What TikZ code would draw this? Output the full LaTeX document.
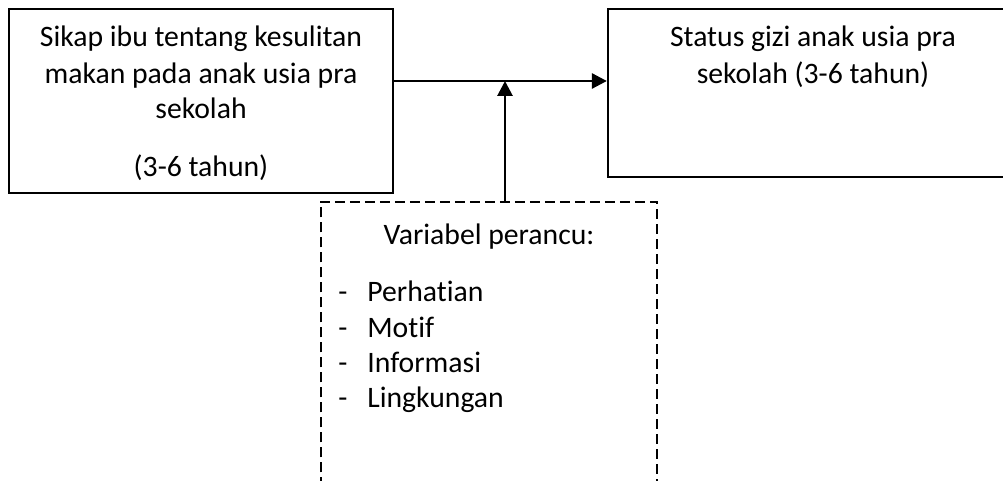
\documentclass[tikz,border=0pt]{standalone}
\usepackage{fontspec}
\setmainfont{Carlito}[Ligatures={NoCommon,NoContextual}]
\usepackage{xcolor}
\usepackage{tikz}
\usetikzlibrary{arrows.meta}
\definecolor{ink}{HTML}{000000}
\tikzset{
  box/.style={draw=ink, line width=1.3pt, minimum width=#1, inner sep=0pt},
  conffrm/.style={draw=ink, line width=1.1pt, dash pattern=on 0.2cm off 0.1cm},
  arr/.style={draw=ink, line width=1.6pt, -{Triangle[length=0.3cm,width=0.3cm]}},
  txt/.style={anchor=base, inner sep=0pt, text=ink},
  itm/.style={anchor=base west, inner sep=0pt, text=ink},
  every node/.style={font=\fontsize{16.9pt}{20pt}\selectfont}
}

\begin{document}
\begin{tikzpicture}
  \useasboundingbox (0,0) rectangle (20.06,-9.62);

  \node[box=7.68cm, minimum height=3.68cm] (lft) at (4.02,-2.02) {};
  \node[box=8.2cm, minimum height=3.36cm] (rgt) at (16.26,-1.86) {};
  \node[minimum width=6.72cm, minimum height=6cm, inner sep=0pt] (conf) at (9.78,-7.04) {};

  % teks kotak kiri
  \node[txt] (l1) at (4.02,-0.94) {Sikap ibu tentang kesulitan};
  \node[txt] (l2) at (4.02,-1.67) {makan pada anak usia pra};
  \node[txt] (l3) at (4.02,-2.38) {sekolah};
  \node[txt] (l4) at (4.02,-3.54) {(3-6 tahun)};

  % teks kotak kanan
  \node[txt] (r1) at (16.26,-0.94) {Status gizi anak usia pra};
  \node[txt] (r2) at (16.26,-1.67) {sekolah (3-6 tahun)};

  % variabel perancu
  \draw[conffrm] (conf.south west) -- (conf.north west) -- (conf.north east) -- (conf.south east);
  \node[txt] (c0) at (9.78,-4.9) {Variabel perancu:};
  \node[txt] (d1) at (6.86,-6.04) {-}; \node[itm] (c1) at (7.34,-6.04) {Perhatian};
  \node[txt] (d2) at (6.86,-6.76) {-}; \node[itm] (c2) at (7.34,-6.76) {Motif};
  \node[txt] (d3) at (6.86,-7.46) {-}; \node[itm] (c3) at (7.34,-7.46) {Informasi};
  \node[txt] (d4) at (6.86,-8.16) {-}; \node[itm] (c4) at (7.34,-8.16) {Lingkungan};

  \coordinate (hz) at ([yshift=0.4cm]lft.east);
  \draw[arr] (hz) -- (hz -| rgt.west);
  \draw[arr] ([xshift=0.32cm]conf.north) -- ([xshift=0.32cm]conf.north |- hz);
\end{tikzpicture}
\end{document}
